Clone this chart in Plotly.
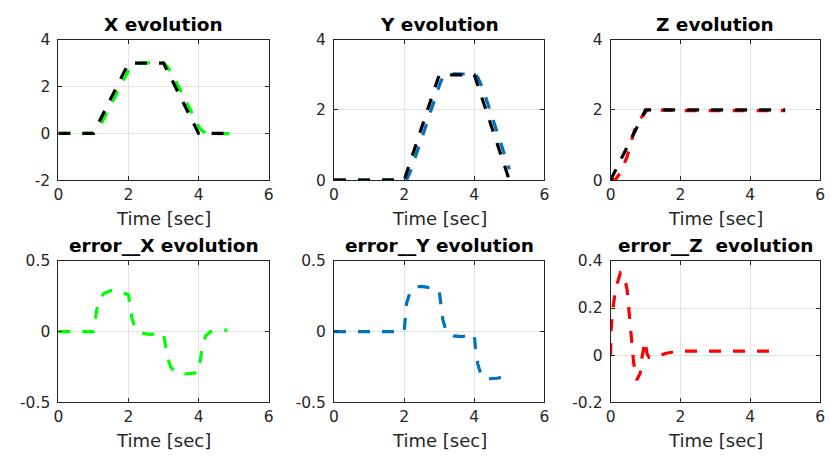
import plotly.graph_objects as go

# ---------------- data ----------------
# X channel: reference and measured position, tracking error
x_ref_t = [0, 1, 2, 3, 4, 5]
x_ref = [0, 0, 3, 3, 0, 0]
x_t = [0, 1.0, 1.05, 1.1, 1.2, 1.3, 1.5, 1.75, 2.0, 2.05, 2.1, 2.2, 2.35, 2.6,
       3.0, 3.05, 3.1, 3.2, 3.35, 3.6, 4.0, 4.05, 4.1, 4.2, 4.35, 4.6, 4.82, 5.0]
x_act = [0, 0, 0.07, 0.14, 0.36, 0.63, 1.21, 1.965, 2.74, 2.82, 2.91, 2.98, 3.01, 3.02,
         3.015, 2.94, 2.87, 2.65, 2.24, 1.5, 0.29, 0.2, 0.11, 0.03, 0.0, -0.01, -0.01, -0.01]
x_err_t = [0, 1.0, 1.05, 1.1, 1.2, 1.3, 1.5, 1.75, 2.0, 2.05, 2.1, 2.2, 2.35, 2.6,
           3.0, 3.05, 3.1, 3.2, 3.35, 3.6, 4.0, 4.05, 4.1, 4.2, 4.35, 4.6, 4.82]
x_err = [0, 0, 0.08, 0.16, 0.24, 0.27, 0.29, 0.285, 0.26, 0.18, 0.09, 0.02, -0.01, -0.02,
         -0.015, -0.09, -0.17, -0.25, -0.29, -0.30, -0.29, -0.2, -0.11, -0.03, 0.0, 0.01, 0.01]

# Y channel
y_ref_t = [0, 2, 3, 4, 5]
y_ref = [0, 0, 3, 3, 0]
y_t = [0, 2.0, 2.03, 2.07, 2.17, 2.3, 2.5, 2.75, 3.0, 3.04, 3.1, 3.2, 3.4, 3.65,
       4.0, 4.03, 4.1, 4.2, 4.33, 4.65, 5.0]
y_act = [0, 0, 0.0, 0.01, 0.23, 0.585, 1.18, 1.94, 2.71, 2.8, 2.91, 3.0, 3.03, 3.035,
         3.02, 3.02, 2.93, 2.71, 2.345, 1.38, 0.31]
y_err = [0, 0, 0.09, 0.2, 0.28, 0.315, 0.32, 0.31, 0.29, 0.2, 0.09, 0.0, -0.03, -0.035,
         -0.02, -0.11, -0.23, -0.31, -0.335, -0.33, -0.31]

# Z channel
z_ref_t = [0, 1, 5]
z_ref = [0, 2, 2]
z_t = [0, 0.01, 0.05, 0.14, 0.28, 0.38, 0.47, 0.52, 0.57, 0.61, 0.66, 0.75, 0.85,
       0.9, 0.99, 1.04, 1.1, 1.27, 1.56, 1.93, 2.5, 3.5, 4.77, 5.0]
z_act = [0, 0.0, 0.0, 0.02, 0.21, 0.42, 0.66, 0.84, 1.025, 1.186, 1.354, 1.606, 1.775,
         1.807, 1.92, 1.993, 2.01, 2.01, 1.993, 1.983, 1.983, 1.983, 1.983, 1.983]
z_err = [0, 0.1, 0.18, 0.28, 0.35, 0.34, 0.28, 0.2, 0.115, 0.034, -0.034, -0.106, -0.075,
         -0.007, 0.06, 0.007, -0.01, -0.01, 0.007, 0.017, 0.017, 0.017, 0.017, None]

titles = ["X evolution", "Y evolution", "Z evolution",
          "error__X evolution", "error__Y evolution", "error__Z  evolution"]
x_label = "Time [sec]"

GREEN, BLUE, RED, BLACK = "#00ff00", "#0072bd", "#ff0000", "#000000"
DASH = "12px,12px"
LW = 3.2
FONT = "DejaVu Sans"

# ---------------- layout geometry (pixels) ----------------
W, H = 831, 468
cols = [(54, 267), (333, 546), (613, 825)]
rows = [(32, 178), (262, 409)]

fig = go.Figure()

panels = [
    # (row, col, traces, y range, y ticks)
    (0, 0, [(x_t, x_act, GREEN), (x_ref_t, x_ref, BLACK)], [-2, 4], [-2, 0, 2, 4]),
    (0, 1, [(y_t, y_act, BLUE), (y_ref_t, y_ref, BLACK)], [0, 4], [0, 2, 4]),
    (0, 2, [(z_t, z_act, RED), (z_ref_t, z_ref, BLACK)], [0, 4], [0, 2, 4]),
    (1, 0, [(x_err_t, x_err, GREEN)], [-0.5, 0.5], [-0.5, 0, 0.5]),
    (1, 1, [(y_t, y_err, BLUE)], [-0.5, 0.5], [-0.5, 0, 0.5]),
    (1, 2, [(z_t, z_err, RED)], [-0.2, 0.4], [-0.2, 0, 0.2, 0.4]),
]

axis_common = dict(
    showline=True, linecolor="#262626", linewidth=1, mirror="ticks",
    ticks="inside", ticklen=4, tickcolor="#262626",
    showgrid=True, gridcolor="#e3e3e3", gridwidth=1, zeroline=False,
    tickfont=dict(family=FONT, size=15.5, color="#262626"),
    fixedrange=True,
)

for i, (r, c, traces, yr, yt) in enumerate(panels):
    n = i + 1
    xa = "x" if n == 1 else f"x{n}"
    ya = "y" if n == 1 else f"y{n}"
    for tx, ty, col in traces:
        fig.add_trace(go.Scatter(
            x=tx, y=ty, mode="lines", xaxis=xa, yaxis=ya,
            line=dict(color=col, width=LW, dash=DASH), showlegend=False,
            hoverinfo="skip", cliponaxis=True,
        ))
    x0, x1 = cols[c]
    y0, y1 = rows[r]
    xkey = "xaxis" if n == 1 else f"xaxis{n}"
    ykey = "yaxis" if n == 1 else f"yaxis{n}"
    fig.layout[xkey] = dict(
        axis_common, domain=[x0 / W, x1 / W], anchor=ya, range=[0, 6],
        tickvals=[0, 2, 4, 6], ticktext=["0", "2", "4", "6"],
    )
    fig.layout[ykey] = dict(
        axis_common, domain=[1 - y1 / H, 1 - y0 / H], anchor=xa, range=yr,
        tickvals=yt, ticktext=["%g" % v for v in yt], ticklabelstandoff=4,
    )
    # panel title
    fig.add_annotation(
        x=(x0 + x1) / 2 / W, y=1 - (y0 - 16) / H, xref="paper", yref="paper",
        text=f"<b>{titles[i]}</b>", showarrow=False, xanchor="center", yanchor="middle",
        font=dict(family=FONT, size=18.5, color="#000000"),
    )
    # x-axis label
    fig.add_annotation(
        x=(x0 + x1) / 2 / W, y=1 - (y1 + 40) / H, xref="paper", yref="paper",
        text=x_label, showarrow=False, xanchor="center", yanchor="middle",
        font=dict(family=FONT, size=18, color="#262626"),
    )

fig.update_layout(
    width=W, height=H, margin=dict(l=0, r=0, t=0, b=0),
    paper_bgcolor="white", plot_bgcolor="white",
)

fig.write_html("out.html", config={"displayModeBar": False})
